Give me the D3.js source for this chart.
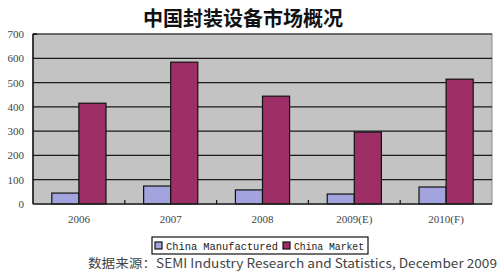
<!DOCTYPE html>
<html>
<head>
<meta charset="utf-8">
<script src="https://cdn.jsdelivr.net/npm/d3@7"></script>
<style>
  html, body { margin: 0; padding: 0; background: #fff; }
  svg { display: block; }
</style>
</head>
<body>
<svg id="chart" width="500" height="272"></svg>
<script>
// Packaging equipment market in China, US$ millions
const years = ["2006", "2007", "2008", "2009(E)", "2010(F)"];
const seriesNames = ["China Manufactured", "China Market"];
const manufactured = [45, 74, 58, 41, 70];
const market = [415, 584, 444, 296, 514];
const yTicks = [0, 100, 200, 300, 400, 500, 600, 700];

const colors = ["#a3a3dd", "#9e2f66"];
const svg = d3.select("#chart");
const plot = { left: 33, right: 492, top: 34, bottom: 204 };

const x = d3.scaleBand().domain(years).range([plot.left, plot.right]).paddingInner(0.41).paddingOuter(0.205);
const xBand = d3.scaleBand().domain(years).range([plot.left, plot.right]);
const xSub = d3.scaleBand().domain(seriesNames).range([0, x.bandwidth()]);
const y = d3.scaleLinear().domain([0, 700]).range([plot.bottom, plot.top]);

// plot background
svg.append("rect")
  .attr("x", plot.left).attr("y", plot.top)
  .attr("width", plot.right - plot.left).attr("height", plot.bottom - plot.top)
  .attr("fill", "#c3c3c3").attr("stroke", "#8a8a8a").attr("stroke-width", 1);

// gridlines
svg.append("g").selectAll("line").data(yTicks.slice(1)).join("line")
  .attr("x1", plot.left).attr("x2", plot.right)
  .attr("y1", d => y(d)).attr("y2", d => y(d))
  .attr("stroke", "#1a1a1a").attr("stroke-width", 1.2);

// bars
const rows = years.map((yr, i) => ({ year: yr, values: [manufactured[i], market[i]] }));
const groups = svg.append("g").selectAll("g").data(rows).join("g")
  .attr("transform", d => `translate(${x(d.year)},0)`);
groups.selectAll("rect").data(d => d.values.map((v, k) => ({ k, v }))).join("rect")
  .attr("x", d => xSub(seriesNames[d.k]))
  .attr("y", d => y(d.v))
  .attr("width", xSub.bandwidth())
  .attr("height", d => y(0) - y(d.v))
  .attr("fill", d => colors[d.k])
  .attr("stroke", "#111").attr("stroke-width", 1.2);

// axes lines
svg.append("line").attr("x1", plot.left).attr("x2", plot.left)
  .attr("y1", plot.top).attr("y2", plot.bottom).attr("stroke", "#111").attr("stroke-width", 1.5);
svg.append("line").attr("x1", plot.left).attr("x2", plot.right)
  .attr("y1", plot.bottom).attr("y2", plot.bottom).attr("stroke", "#222").attr("stroke-width", 1.5);
svg.append("line").attr("x1", plot.left).attr("x2", plot.left + 4)
  .attr("y1", plot.top).attr("y2", plot.top).attr("stroke", "#111").attr("stroke-width", 1.5);

// category separator ticks
svg.append("g").selectAll("line").data(years.slice(1)).join("line")
  .attr("x1", d => xBand(d)).attr("x2", d => xBand(d))
  .attr("y1", plot.bottom - 4).attr("y2", plot.bottom)
  .attr("stroke", "#111").attr("stroke-width", 1.2);

// y tick labels
svg.append("g").selectAll("text").data(yTicks).join("text")
  .attr("x", 24).attr("y", d => y(d) + 4)
  .attr("text-anchor", "end")
  .attr("font-family", "Liberation Serif, serif").attr("font-size", 11)
  .attr("fill", "#444")
  .text(d => d);

// x labels
svg.append("g").selectAll("text").data(years).join("text")
  .attr("x", d => xBand(d) + xBand.bandwidth() / 2).attr("y", 223)
  .attr("text-anchor", "middle")
  .attr("font-family", "Liberation Serif, serif").attr("font-size", 11)
  .attr("fill", "#444")
  .text(d => d);

// title
svg.append("text").attr("x", 243).attr("y", 26)
  .attr("text-anchor", "middle")
  .attr("font-family", "Noto Sans CJK SC, sans-serif").attr("font-weight", "bold")
  .attr("font-size", 20).attr("fill", "#111")
  .text("中国封装设备市场概况");

// legend
const legend = svg.append("g");
legend.append("rect").attr("x", 152).attr("y", 237).attr("width", 216).attr("height", 17)
  .attr("fill", "#fff").attr("stroke", "#111").attr("stroke-width", 1.2);
const legendItems = [{ name: seriesNames[0], x: 155 }, { name: seriesNames[1], x: 283 }];
legendItems.forEach((item, k) => {
  legend.append("rect").attr("x", item.x).attr("y", 242).attr("width", 7).attr("height", 7)
    .attr("fill", colors[k]).attr("stroke", "#111").attr("stroke-width", 1.2);
  legend.append("text").attr("x", item.x + 11).attr("y", 249.5)
    .attr("font-family", "Liberation Mono, monospace").attr("font-size", 10.5)
    .attr("fill", "#222").attr("textLength", k === 0 ? 112 : 70).attr("lengthAdjust", "spacingAndGlyphs")
    .text(item.name);
});

// source note
svg.append("text").attr("x", 88).attr("y", 268)
  .attr("font-family", "Noto Sans CJK SC, sans-serif").attr("font-size", 12.5)
  .attr("fill", "#444").attr("textLength", 409).attr("lengthAdjust", "spacingAndGlyphs")
  .text("数据来源：SEMI Industry Research and Statistics, December 2009");
</script>
</body>
</html>
